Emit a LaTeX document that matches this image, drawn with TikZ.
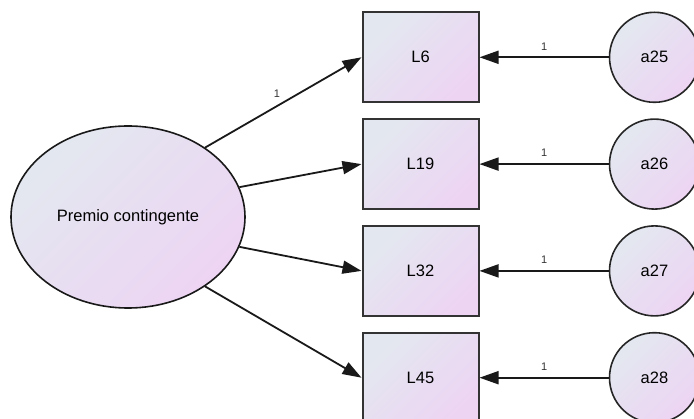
\documentclass[tikz,border=0pt]{standalone}
\usepackage{fontspec}
\setmainfont{Liberation Sans}
\usetikzlibrary{arrows.meta,shapes.geometric}
\definecolor{shadetl}{RGB}{227,232,240}
\definecolor{shadebr}{RGB}{237,212,243}

\begin{document}
\begin{tikzpicture}[x=1pt, y=-1pt,
    fillgrad/.style={top color=shadetl, bottom color=shadebr, shading angle=45},
    obs/.style={fillgrad, draw=black!80, line width=2pt, rectangle, minimum width=116pt, minimum height=90pt, font=\fontsize{16.5}{19}\selectfont},
    err/.style={fillgrad, draw=black!85, line width=1.6pt, circle, minimum size=90pt, font=\fontsize{16.5}{19}\selectfont},
    lat/.style={fillgrad, draw=black!90, line width=1.6pt, ellipse, minimum width=234pt, minimum height=182pt, font=\fontsize{16.5}{19}\selectfont},
    arr/.style={-{Triangle[length=19pt, width=13pt]}, line width=1.8pt, black!90},
    lbl/.style={font=\fontsize{11}{13}\selectfont, text=black!80}]

        \useasboundingbox (0,0) rectangle (694,419);
        \clip (0,0) rectangle (694,419);

        % Variável latente
        \node[lat] (pc) at (128,217) {Premio contingente};

        % Indicadores
        \node[obs] (L6) at (420.5,57.3) {L6};
        \node[obs] (L19) at (420.5,164.1) {L19};
        \node[obs] (L32) at (420.5,270.9) {L32};
        \node[obs] (L45) at (420.5,377.7) {L45};

        % Erros
        \node[err] (a25) at (654.5,57.3) {a25};
        \node[err] (a26) at (654.5,164.1) {a26};
        \node[err] (a27) at (654.5,270.9) {a27};
        \node[err] (a28) at (654.5,377.7) {a28};

        % Cargas fatoriais
        \draw[arr] (pc.42) -- node[lbl, pos=0.46, above=4pt] {1} (L6.west);
        \draw[arr] (pc.15) -- (L19.west);
        \draw[arr] (pc.-15) -- (L32.west);
        \draw[arr] (pc.-42) -- (L45.west);

        % Setas dos erros
        \draw[arr] (a25) -- node[lbl, above=3pt] {1} (L6);
        \draw[arr] (a26) -- node[lbl, above=3pt] {1} (L19);
        \draw[arr] (a27) -- node[lbl, above=3pt] {1} (L32);
        \draw[arr] (a28) -- node[lbl, above=3pt] {1} (L45);

    \end{tikzpicture}
\end{document}
